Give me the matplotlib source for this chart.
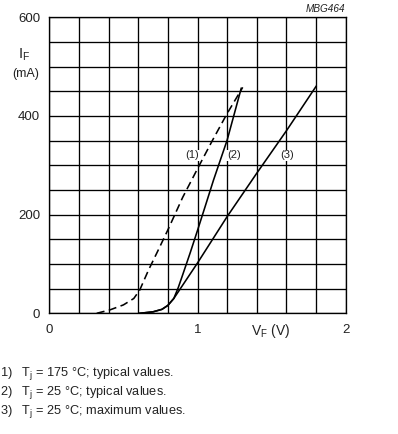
import matplotlib
matplotlib.use("Agg")
import matplotlib.pyplot as plt
from matplotlib.ticker import MultipleLocator

plt.rcParams['font.family'] = ['Liberation Sans', 'DejaVu Sans']
plt.rcParams['mathtext.fontset'] = 'custom'
plt.rcParams['mathtext.rm'] = 'Liberation Sans'
plt.rcParams['mathtext.it'] = 'Liberation Sans:italic'

# Curve (1): Tj = 175 C typical (dashed)
v1 = [0.32, 0.41, 0.50, 0.57, 0.61, 0.67, 0.73, 0.80, 0.90, 1.00, 1.10, 1.20, 1.305]
i1 = [0, 7, 17, 30, 47, 88, 125, 169, 235, 293, 350, 405, 458]
# Curve (2): Tj = 25 C typical
v2 = [0.61, 0.70, 0.76, 0.80, 0.84, 0.87, 0.90, 0.95, 1.00, 1.05, 1.108, 1.20, 1.295]
i2 = [0, 3, 8, 16, 30, 52, 78, 122, 168, 215, 270, 351, 456]
# Curve (3): Tj = 25 C maximum
v3 = [0.61, 0.70, 0.76, 0.80, 0.84, 0.90, 1.00, 1.20, 1.40, 1.60, 1.80]
i3 = [0, 3, 8, 16, 30, 57, 102, 196, 284, 370, 460]

xticks = [0, 1, 2]
yticks = [0, 200, 400, 600]

W, H = 398, 434
fig = plt.figure(figsize=(W / 100, H / 100), dpi=100)
ax = fig.add_axes([49.3 / W, 1 - 313.3 / H, (345.7 - 49.3) / W, (313.3 - 17.3) / H])

ax.set_xlim(0, 2)
ax.set_ylim(0, 600)
ax.xaxis.set_minor_locator(MultipleLocator(0.2))
ax.yaxis.set_minor_locator(MultipleLocator(50))
ax.set_xticks(xticks)
ax.set_yticks(yticks)
ax.set_xticklabels([str(t) for t in xticks])
ax.set_yticklabels([str(t) for t in yticks])
ax.tick_params(which='both', length=0, labelsize=9.5, colors='#222222')
ax.tick_params(axis='x', pad=7.5)
ax.tick_params(axis='y', pad=6.5)
ax.grid(which='both', color='black', linewidth=0.95)
for s in ax.spines.values():
    s.set_linewidth(0.95)
    s.set_color('black')
ax.set_axisbelow(True)

lw = 1.15
ax.plot(v1, i1, color='black', linewidth=lw, linestyle=(0, (5, 2.8)), zorder=3)
ax.plot(v2, i2, color='black', linewidth=lw, zorder=3)
ax.plot(v3, i3, color='black', linewidth=lw, zorder=3)

lab_kw = dict(fontsize=8, ha='center', va='center', color='#222222', zorder=4,
              bbox=dict(facecolor='white', edgecolor='none', pad=0.6))
ax.text(0.962, 320, '(1)', **lab_kw)
ax.text(1.245, 320, '(2)', **lab_kw)
ax.text(1.607, 320, '(3)', **lab_kw)

# axis titles
fig.text(24.5 / W, 1 - 55 / H, r'I$_\mathrm{F}$', fontsize=10.5, ha='center', va='center', color='#222222')
fig.text(25.5 / W, 1 - 74.5 / H, '(mA)', fontsize=9, ha='center', va='center', color='#222222')
fig.text(271 / W, 1 - 331 / H, r'V$_\mathrm{F}$ (V)', fontsize=10, ha='center', va='center', color='#222222')
fig.text(345.5 / W, 1 - 9 / H, 'MBG464', fontsize=7.2, style='italic', ha='right', va='center', color='#222222')

notes = [r'1)   T$_\mathrm{j}$ = 175 °C; typical values.',
         r'2)   T$_\mathrm{j}$ = 25 °C; typical values.',
         r'3)   T$_\mathrm{j}$ = 25 °C; maximum values.']
ys = [373.5, 392.5, 411]
for t, y in zip(notes, ys):
    fig.text(0.0, 1 - y / H, t, fontsize=9.2, ha='left', va='center', color='#222222')

fig.savefig('out.png', dpi=100, facecolor='white')
